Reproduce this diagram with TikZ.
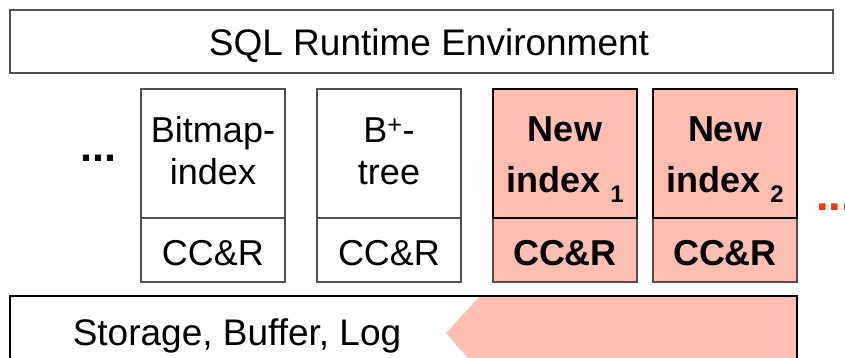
\documentclass[tikz,border=0pt]{standalone}
\usepackage{fontspec}
\setmainfont{Liberation Sans}
\definecolor{pinkfill}{RGB}{255,190,176}
\definecolor{dotred}{RGB}{255,51,0}
\definecolor{edgegray}{RGB}{80,80,80}
\begin{document}
\begin{tikzpicture}[x=1pt,y=-1pt,
  boxw/.style={draw=edgegray,line width=1.3pt,fill=white,inner sep=0pt,minimum width=144pt},
  boxp/.style={draw=black,line width=1.8pt,fill=pinkfill,inner sep=0pt,minimum width=144pt},
  boxpl/.style={draw=edgegray,line width=1.3pt,fill=pinkfill,inner sep=0pt,minimum width=144pt},
  upper/.style={minimum height=129pt},
  lower/.style={minimum height=64pt},
  reg/.style={font=\fontsize{36}{40}\selectfont,inner sep=0pt,anchor=base},
  bld/.style={font=\fontsize{36}{40}\selectfont\bfseries,inner sep=0pt,anchor=base}]
\useasboundingbox (0,0) rectangle (845,358);
% top box
\node[draw=edgegray,line width=1.3pt,minimum width=823pt,minimum height=63pt,inner sep=0pt] (sql) at (421.5,41.5) {};
\node[reg,font=\fontsize{37}{40}\selectfont] (sqlt) at (429,56) {SQL Runtime Environment};
% index boxes
\node[boxw,upper] (bmu) at (213,153.5) {};
\node[boxw,lower] (bml) at (213,250) {};
\node[boxw,upper] (bpu) at (389,153.5) {};
\node[boxw,lower] (bpl) at (389,250) {};
\node[boxpl,lower] (n1l) at (565,250) {};
\node[boxp,upper] (n1u) at (565,153.5) {};
\node[boxpl,lower] (n2l) at (725,250) {};
\node[boxp,upper] (n2u) at (725,153.5) {};
% labels
\node[reg] (bm1) at (213,143) {Bitmap-};
\node[reg] (bm2) at (213,185) {index};
\node[reg] (bmc) at (213,265) {CC\&R};
\node[reg] (bp1) at (389,143) {B\textsuperscript{+}-};
\node[reg] (bp2) at (389,185) {tree};
\node[reg] (bpc) at (389,265) {CC\&R};
\node[bld] (n11) at (565,142) {New};
\node[bld] (n12) at (565,192) {index \raisebox{-10pt}{\fontsize{24}{24}\selectfont 1}};
\node[bld] (n1c) at (565,265) {CC\&R};
\node[bld] (n21) at (725,142) {New};
\node[bld] (n22) at (725,192) {index \raisebox{-10pt}{\fontsize{24}{24}\selectfont 2}};
\node[bld] (n2c) at (725,265) {CC\&R};
% dots
\node[font=\fontsize{43}{45}\selectfont\bfseries,inner sep=0pt,anchor=base west] (ldots) at (80,162) {...};
\node[font=\fontsize{45}{45}\selectfont\bfseries,text=dotred,inner sep=0pt,anchor=base west] (rdots) at (816,210) {...};
% bottom box
\coordinate (sa) at (480,296);
\coordinate (sb) at (446,333);
\coordinate (sc) at (480,372);
\coordinate (sd) at (797,372);
\coordinate (se) at (797,296);
\fill[pinkfill] (sa) -- (sb) -- (sc) -- (sd) -- (se) -- cycle;
\node[draw=black,line width=1.3pt,minimum width=787pt,minimum height=76pt,inner sep=0pt] (stor) at (403.5,334) {};
\node[reg,font=\fontsize{37}{40}\selectfont] (stort) at (237,345) {Storage, Buffer, Log};
\end{tikzpicture}
\end{document}
